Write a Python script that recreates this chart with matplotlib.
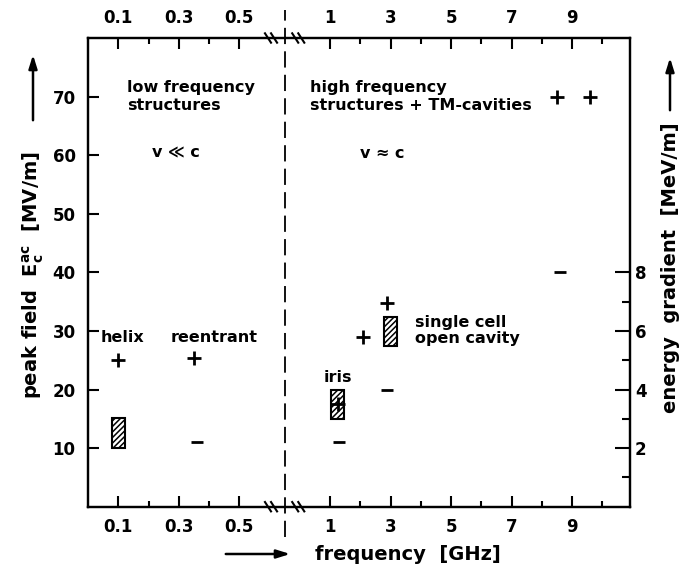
import numpy as np
import matplotlib.pyplot as plt

plt.rcParams['font.family'] = ['DejaVu Sans']
plt.rcParams['font.weight'] = 'bold'
plt.rcParams['mathtext.default'] = 'regular'
plt.rcParams['hatch.linewidth'] = 1.1

# frequency [GHz] vs peak field [MV/m]
plus_f = [0.1, 0.35, 1.25, 2.1, 2.9, 8.5, 9.6]
plus_E = [25, 25.3, 17.5, 29, 34.7, 70, 70]
minus_f = [0.36, 1.3, 2.9, 8.6]
minus_E = [11, 11, 20, 40]
bar_f = [0.1, 1.25, 3.0]
bar_lo = [10, 15, 27.5]
bar_hi = [15.2, 20, 32.3]

tick_f = [0.1, 0.3, 0.5, 1, 3, 5, 7, 9]
tick_lab = ['0.1', '0.3', '0.5', '1', '3', '5', '7', '9']
minor_f = [0.2, 0.4, 2, 4, 6, 8, 10]


def pos(f):
    # broken axis: below 1 GHz 0.1 GHz per unit, above 1 GHz per unit
    f = np.asarray(f, dtype=float)
    return np.where(f < 0.7, f * 10, f + 7)


fig = plt.figure(figsize=(6.95, 5.73), dpi=100)
ax = fig.add_axes([88 / 695, 1 - 506.7 / 573, 541.5 / 695, 468.7 / 573])
ax.set_xlim(0, 17.9)
ax.set_ylim(0, 80)

ax.bar(pos(bar_f), np.array(bar_hi) - np.array(bar_lo), bottom=bar_lo, width=0.42,
       facecolor='white', edgecolor='black', hatch='//////', linewidth=1.5, zorder=2)
ax.plot(pos(plus_f), plus_E, '+', color='black', ms=9.5, mew=2, zorder=3)
ax.plot(pos(minus_f), minus_E, '_', color='black', ms=9, mew=2, zorder=3)

for s in ax.spines.values():
    s.set_linewidth(1.6)

ax.set_xticks(pos(tick_f))
ax.set_xticklabels(tick_lab)
ax.set_xticks(pos(minor_f), minor=True)
ax.set_yticks([10, 20, 30, 40, 50, 60, 70])
ax.tick_params(which='both', direction='in', top=True, labeltop=True, width=1.5,
               labelsize=12)
ax.tick_params(which='major', length=8)
ax.tick_params(which='minor', length=4)
ax.tick_params(axis='x', pad=8)
ax.tick_params(axis='y', pad=9)

ax2 = ax.twinx()
ax2.set_ylim(0, 16)
ax2.set_yticks([2, 4, 6, 8])
ax2.set_yticks([1, 3, 5, 7], minor=True)
ax2.tick_params(which='both', direction='in', width=1.5, labelsize=12, pad=4)
ax2.tick_params(which='major', length=11)
ax2.tick_params(which='minor', length=6)
for s in ax2.spines.values():
    s.set_linewidth(1.6)

# break marks and dividing line
tr = ax.get_xaxis_transform()
for b in [6.05, 6.95]:
    for yb in [0, 1]:
        for off in [-0.1, 0.1]:
            ax.plot([b + off - 0.1, b + off + 0.1], [yb + 0.01, yb - 0.01],
                    color='black', lw=1.5, transform=tr, clip_on=False)
ax.axvline(6.5, ymin=-0.065, ymax=1.06, color='black', lw=1.3,
           linestyle=(0, (9, 4)), clip_on=False)

fs = 11.5
ax.text(1.3, 70, 'low frequency\nstructures', fontsize=fs, va='center', linespacing=1.25)
ax.text(2.1, 60.3, 'v ≪ c', fontsize=fs, va='center')
ax.text(7.35, 70, 'high frequency\nstructures + TM-cavities', fontsize=fs,
        va='center', linespacing=1.25)
ax.text(9.0, 60.3, 'v ≈ c', fontsize=fs, va='center')
ax.text(0.43, 28.9, 'helix', fontsize=fs, va='center')
ax.text(2.74, 28.9, 'reentrant', fontsize=fs, va='center')
ax.text(7.8, 22, 'iris', fontsize=fs, va='center')
ax.text(10.8, 30.1, 'single cell\nopen cavity', fontsize=fs, va='center',
        linespacing=1.1)

fig.text(33 / 695, 1 - 275 / 573, r'peak field  $E_c^{ac}$  [MV/m]', rotation=90,
         fontsize=14, ha='center', va='center')
fig.text(670 / 695, 1 - 268 / 573, 'energy  gradient  [MeV/m]', rotation=90,
         fontsize=14, ha='center', va='center')
fig.text(315 / 695, 1 - 555 / 573, 'frequency  [GHz]', fontsize=14, ha='left',
         va='center')

arrow = dict(arrowstyle='-|>,head_length=0.8,head_width=0.25', color='black', lw=1.8)
ax.annotate('', xy=(33 / 695, 1 - 52 / 573), xytext=(33 / 695, 1 - 123 / 573),
            xycoords='figure fraction', arrowprops=arrow)
ax.annotate('', xy=(670 / 695, 1 - 55 / 573), xytext=(670 / 695, 1 - 113 / 573),
            xycoords='figure fraction', arrowprops=arrow)
ax.annotate('', xy=(293 / 695, 1 - 554 / 573), xytext=(223 / 695, 1 - 554 / 573),
            xycoords='figure fraction', arrowprops=arrow)

fig.savefig('out.png', dpi=100)
